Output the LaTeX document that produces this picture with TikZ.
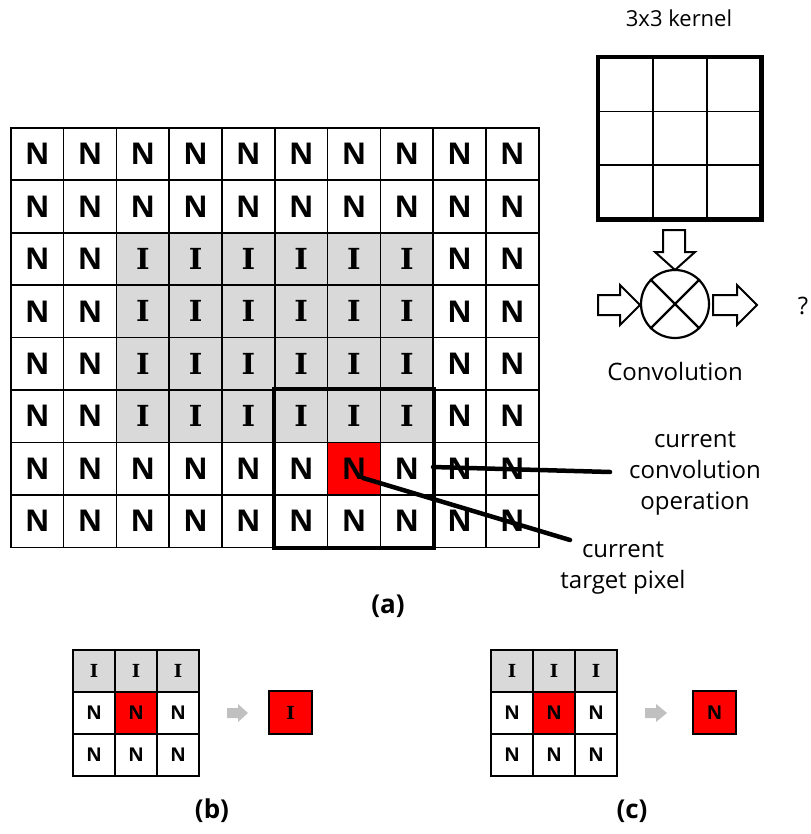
\documentclass[tikz,border=0pt]{standalone}
\usepackage{fontspec}
\setmainfont{Open Sans}
\newfontfamily\slabfont{DejaVu Serif}
\usetikzlibrary{fit}
\definecolor{igray}{HTML}{D9D9D9}
\definecolor{arrgray}{HTML}{C0C0C0}
\begin{document}
\begin{tikzpicture}[x=1pt,y=-1pt,
  pix/.style={draw, line width=1.6pt, minimum width=52.8pt, minimum height=52.45pt,
    inner sep=0pt, anchor=north west, font=\fontsize{30}{30}\selectfont\bfseries},
  islab/.style={font=\fontsize{29}{29}\selectfont\slabfont\bfseries},
  kpix/.style={draw, line width=1.6pt, minimum width=54pt, minimum height=53.7pt,
    inner sep=0pt, anchor=north west},
  spix/.style={draw, line width=2.2pt, minimum size=42pt, inner sep=0pt,
    anchor=north west, font=\fontsize{19}{19}\selectfont\bfseries},
  sslab/.style={font=\fontsize{18}{18}\selectfont\slabfont\bfseries},
  frame/.style={draw, line width=4.4pt, inner sep=0pt},
  leader/.style={line width=4.5pt, line cap=round},
  blockarrow/.style={draw, line width=2pt, fill=white, line join=miter},
  lbl/.style={font=\fontsize{24}{31}\selectfont, align=center},
  caption/.style={font=\fontsize{26}{26}\selectfont\bfseries}]
\useasboundingbox (0,0) rectangle (810,834);

% ---- input image: 8 x 10 pixel grid ----
\foreach \r in {0,...,7}{
  \foreach \c in {0,...,9}{
    \pgfmathtruncatemacro\isin{(\r>1)&&(\r<6)&&(\c>1)&&(\c<8)}
    \pgfmathtruncatemacro\isred{(\r==6)&&(\c==6)}
    \ifnum\isin=1
      \node[pix, fill=igray, islab] (m-\r-\c) at (10+\c*52.8,127+\r*52.45) {I};
    \else
      \ifnum\isred=1
        \node[pix, fill=red] (m-\r-\c) at (10+\c*52.8,127+\r*52.45) {N};
      \else
        \node[pix] (m-\r-\c) at (10+\c*52.8,127+\r*52.45) {N};
      \fi
    \fi
  }
}
% current 3x3 window
\node[frame, fit=(m-5-5)(m-7-7)] (win) {};

% leader lines and their labels
\coordinate (op-start) at (433,467);
\coordinate (op-end) at (610,472);
\coordinate (px-start) at (363,478);
\coordinate (px-end) at (570,540);
\draw[leader] (op-start) -- (op-end);
\draw[leader] (px-start) -- (px-end);
\node[lbl] (op-lbl) at (695,473) {current\\convolution\\operation};
\node[lbl] (px-lbl) at (623,568) {current\\target pixel};
\node[caption] (cap-a) at (388,606) {(a)};

% ---- 3x3 kernel ----
\node[lbl, font=\fontsize{22}{26}\selectfont] (k-title) at (679,18) {3x3 kernel};
\foreach \r in {0,1,2}{
  \foreach \c in {0,1,2}{
    \node[kpix] (k-\r-\c) at (598+\c*54,57+\r*53.7) {};
  }
}
\node[frame, fit=(k-0-0)(k-2-2)] (kern) {};

% ---- convolution operator ----
\node[circle, draw, line width=2.2pt, minimum size=68pt, inner sep=0pt] (conv) at (675,304) {};
\draw[line width=2.2pt] (conv.north west) -- (conv.south east);
\draw[line width=2.2pt] (conv.north east) -- (conv.south west);
\draw[blockarrow] (663,230) -- (685,230) -- (685,252) -- (695,252) -- (675,270)
  -- (655,252) -- (663,252) -- cycle;
\draw[blockarrow] (598,295) -- (620,295) -- (620,285) -- (640,305) -- (620,325)
  -- (620,315) -- (598,315) -- cycle;
\draw[blockarrow] (713,295) -- (737,295) -- (737,285) -- (757,305) -- (737,325)
  -- (737,315) -- (713,315) -- cycle;
\node[lbl] (q) at (803,306) {?};
\node[lbl] (conv-lbl) at (675,371) {Convolution};

% ---- case (b) ----
\foreach \c in {0,1,2}{
  \node[spix, fill=igray, sslab] (b-0-\c) at (72+\c*42,649) {I};
  \node[spix] (b-2-\c) at (72+\c*42,733) {N};
}
\node[spix] (b-1-0) at (72,691) {N};
\node[spix, fill=red] (b-1-1) at (114,691) {N};
\node[spix] (b-1-2) at (156,691) {N};
\fill[arrgray] (227,708) -- (238,708) -- (238,704) -- (248,713) -- (238,722)
  -- (238,718) -- (227,718) -- cycle;
\node[spix, fill=red, sslab, minimum size=43pt] (b-out) at (268,690) {I};
\node[caption] (cap-b) at (212,811) {(b)};

% ---- case (c) ----
\foreach \c in {0,1,2}{
  \node[spix, fill=igray, sslab] (c-0-\c) at (490+\c*42,649) {I};
  \node[spix] (c-2-\c) at (490+\c*42,733) {N};
}
\node[spix] (c-1-0) at (490,691) {N};
\node[spix, fill=red] (c-1-1) at (532,691) {N};
\node[spix] (c-1-2) at (574,691) {N};
\fill[arrgray] (645,708) -- (656,708) -- (656,704) -- (667,713) -- (656,722)
  -- (656,718) -- (645,718) -- cycle;
\node[spix, fill=red, minimum size=43pt] (c-out) at (692,690) {N};
\node[caption] (cap-c) at (632,811) {(c)};
\end{tikzpicture}
\end{document}
